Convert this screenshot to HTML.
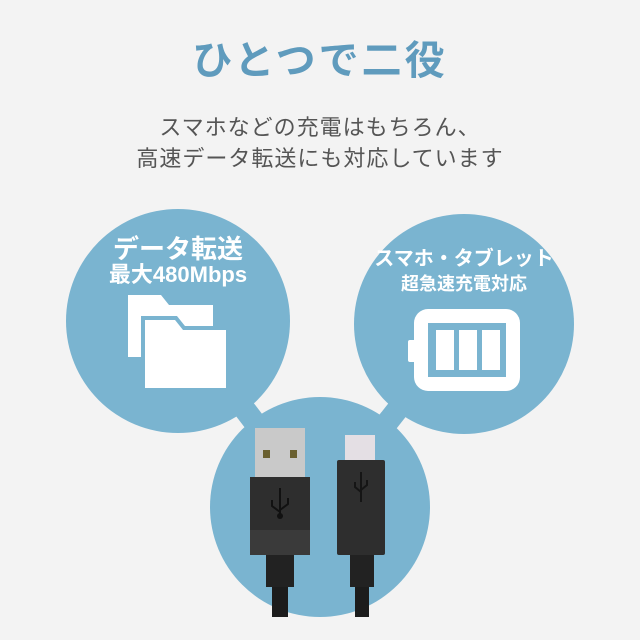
<!DOCTYPE html>
<html><head><meta charset="utf-8"><style>
body{margin:0;width:640px;height:640px;background:#f3f3f3;overflow:hidden;position:relative;font-family:"Liberation Sans","Noto Sans CJK JP",sans-serif}
.t{position:absolute;left:0;width:640px;text-align:center}
</style></head><body>
<div class="t" style="top:28px;font-size:40px;color:#5f9bbd;font-weight:bold;letter-spacing:3px">ひとつで二役</div>
<div class="t" style="top:112px;font-size:22px;color:#555;line-height:31px;letter-spacing:1px">スマホなどの充電はもちろん、<br>高速データ転送にも対応しています</div>
<svg width="640" height="640" style="position:absolute;left:0;top:0">
<g stroke="#7ab4d0" stroke-width="22"><line x1="178" y1="322" x2="320" y2="508"/><line x1="464" y1="325" x2="320" y2="508"/></g>
<g fill="#7ab4d0"><circle cx="178" cy="321" r="112"/><circle cx="464" cy="324" r="110"/><circle cx="320" cy="507" r="110"/></g>
<g fill="#fff">
<path d="M128 295h33l8 10h44v52h-85z"/>
<path d="M143 318h33l8 10h44v62h-85z" stroke="#7ab4d0" stroke-width="4"/>
<rect x="408" y="340" width="8" height="22" rx="2"/>
<rect x="414" y="309" width="106" height="82" rx="14"/>
</g>
<rect x="428" y="323" width="78" height="54" fill="#7ab4d0"/>
<g fill="#fff"><rect x="436" y="330" width="18" height="40"/><rect x="459" y="330" width="18" height="40"/><rect x="482" y="330" width="18" height="40"/></g>
<g font-family="Liberation Sans,Noto Sans CJK JP,sans-serif" font-weight="bold" fill="#fff" text-anchor="middle">
<text x="178" y="258" font-size="26">データ転送</text>
<text x="178" y="282" font-size="22">最大480Mbps</text>
<text x="464" y="265" font-size="20">スマホ・タブレット</text>
<text x="464" y="290" font-size="18">超急速充電対応</text>
</g>
<rect x="255" y="428" width="50" height="50" fill="#c9c9c9"/>
<rect x="263" y="450" width="7" height="8" fill="#6a6030"/><rect x="290" y="450" width="7" height="8" fill="#6a6030"/>
<rect x="250" y="477" width="60" height="78" fill="#2e2e2e"/>
<rect x="250" y="530" width="60" height="25" fill="#3a3a3a"/>
<g stroke="#111" stroke-width="2" fill="none"><path d="M280 488v30M272 500v6l8 6M288 498v6l-8 6"/></g>
<circle cx="280" cy="516" r="3" fill="#111"/>
<rect x="266" y="555" width="28" height="32" fill="#222"/>
<rect x="272" y="587" width="16" height="30" fill="#1c1c1c"/>
<rect x="345" y="435" width="30" height="26" fill="#e4dfe4"/>
<rect x="337" y="460" width="48" height="95" rx="2" fill="#2e2e2e"/>
<g stroke="#151515" stroke-width="2" fill="none"><path d="M361 472v30M355 482v5l6 5M367 480v5l-6 5"/></g>
<rect x="350" y="555" width="24" height="32" fill="#222"/>
<rect x="355" y="587" width="14" height="30" fill="#1c1c1c"/>
</svg>
</body></html>
